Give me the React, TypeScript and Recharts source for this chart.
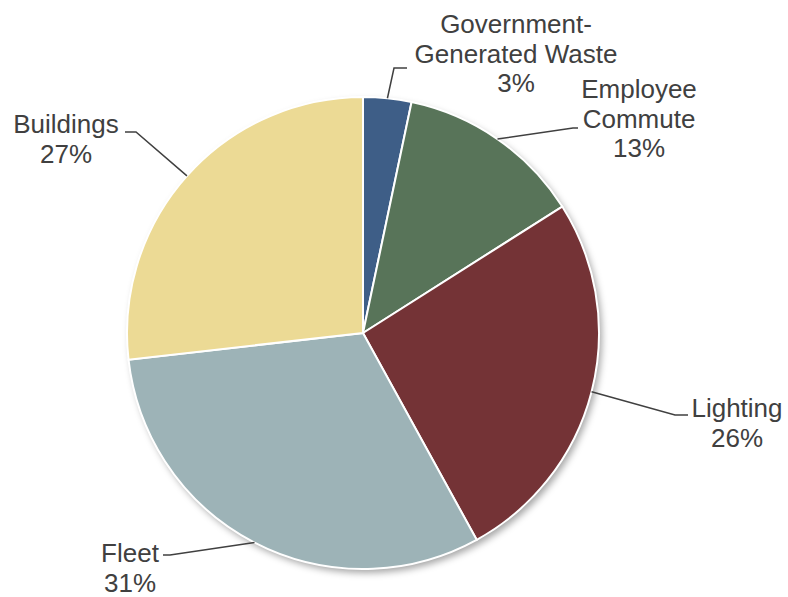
import React from "react";
import { PieChart, Pie, Cell } from "recharts";

// ---- data ----
const categories = [
  "Government-Generated Waste",
  "Employee Commute",
  "Lighting",
  "Fleet",
  "Buildings",
];
const shares = [3.3, 12.7, 26, 31.2, 26.8];
const labelLines = [
  ["Government-", "Generated Waste"],
  ["Employee", "Commute"],
  ["Lighting"],
  ["Fleet"],
  ["Buildings"],
];

// ---- styles / layout ----
const COLORS = ["#3E5E87", "#587459", "#743336", "#9DB3B7", "#ECDA95"];
const TEXT_COLOR = "#404040";
const FONT = "'Liberation Sans', Arial, sans-serif";
const FONT_SIZE = 26;
const LINE_H = 29.7;
// label layout relative to pie centre: text centre x, first baseline y, elbow point, end of horizontal stub
const LABEL_LAYOUT = [
  { tx: 153, ty: -300, ex: 31, ey: -265, hx: 44 },
  { tx: 276, ty: -235, ex: 210, ey: -205, hx: 215 },
  { tx: 374, ty: 84, ex: 312, ey: 82, hx: 325 },
  { tx: -233, ty: 229, ex: -193, ey: 222, hx: -200 },
  { tx: -297, ty: -200, ex: -227, ey: -201, hx: -238 },
];

const data = categories.map((name, i) => ({ name, value: shares[i] }));
const total = shares.reduce((a, b) => a + b, 0);
const shadowData = [{ name: "all", value: total }];

const RAD = Math.PI / 180;

function renderLabel(props: any) {
  const { cx, cy, midAngle, outerRadius, index, value } = props;
  const L = LABEL_LAYOUT[index];
  const sx = cx + outerRadius * Math.cos(-midAngle * RAD);
  const sy = cy + outerRadius * Math.sin(-midAngle * RAD);
  const lines = [...labelLines[index], `${Math.round((value / total) * 100)}%`];
  return (
    <g key={`lbl-${index}`}>
      <polyline
        points={`${sx},${sy} ${cx + L.ex},${cy + L.ey} ${cx + L.hx},${cy + L.ey}`}
        fill="none"
        stroke={TEXT_COLOR}
        strokeWidth={1.5}
      />
      <text
        x={cx + L.tx}
        y={cy + L.ty}
        textAnchor="middle"
        fill={TEXT_COLOR}
        fontFamily={FONT}
        fontSize={FONT_SIZE}
      >
        {lines.map((t, k) => (
          <tspan key={k} x={cx + L.tx} y={cy + L.ty + k * LINE_H}>
            {t}
          </tspan>
        ))}
      </text>
    </g>
  );
}

export default function App() {
  return (
    <div style={{ position: "absolute", left: 0, top: 0, background: "#fff" }}>
      <PieChart width={788} height={597} margin={{ top: 0, right: 0, bottom: 0, left: 0 }}>
        <defs>
          <filter id="pieShadow" x="-20%" y="-20%" width="140%" height="140%">
            <feDropShadow dx="3" dy="4" stdDeviation="3.5" floodColor="#000" floodOpacity="0.35" />
          </filter>
        </defs>
        <Pie
          data={shadowData}
          dataKey="value"
          cx={363}
          cy={333}
          outerRadius={236}
          startAngle={90}
          endAngle={-270}
          stroke="none"
          fill="#ffffff"
          isAnimationActive={false}
          labelLine={false}
        >
          <Cell fill="#ffffff" filter="url(#pieShadow)" />
        </Pie>
        <Pie
          data={data}
          dataKey="value"
          nameKey="name"
          cx={363}
          cy={333}
          outerRadius={236}
          startAngle={90}
          endAngle={-270}
          stroke="#ffffff"
          strokeWidth={2}
          isAnimationActive={false}
          labelLine={false}
          label={renderLabel}
        >
          {data.map((d, i) => (
            <Cell key={d.name} fill={COLORS[i]} />
          ))}
        </Pie>
      </PieChart>
    </div>
  );
}
